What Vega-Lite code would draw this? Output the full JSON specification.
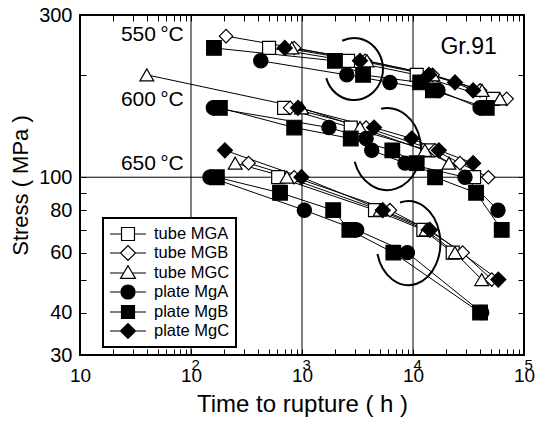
{
  "$schema": "https://vega.github.io/schema/vega-lite/v6.json",
  "width": 444,
  "height": 340,
  "autosize": {"type": "none"},
  "padding": {"left": 80, "top": 15, "right": 14, "bottom": 70},
  "config": {
    "font": "Liberation Sans",
    "view": {"stroke": "black", "strokeWidth": 2},
    "axis": {"domain": false, "grid": false, "tickColor": "black", "tickWidth": 1, "labelColor": "black", "titleColor": "black", "labelFont": "Liberation Sans", "titleFont": "Liberation Sans", "titleFontWeight": "normal", "labelFlush": false, "labelOverlap": false}
  },
  "datasets": {
    "pts": [
      {"s":"tube MGA","T":550,"t":505,"p":240},{"s":"tube MGA","T":550,"t":2600,"p":220},{"s":"tube MGA","T":550,"t":10800,"p":200},{"s":"tube MGA","T":550,"t":52600,"p":170},
      {"s":"tube MGB","T":550,"t":207,"p":260},{"s":"tube MGB","T":550,"t":850,"p":240},{"s":"tube MGB","T":550,"t":3700,"p":220},{"s":"tube MGB","T":550,"t":15000,"p":200},{"s":"tube MGB","T":550,"t":40200,"p":180},{"s":"tube MGB","T":550,"t":69800,"p":170},
      {"s":"tube MGC","T":550,"t":810,"p":240},{"s":"tube MGC","T":550,"t":3850,"p":220},{"s":"tube MGC","T":550,"t":15100,"p":200},{"s":"tube MGC","T":550,"t":41900,"p":180},{"s":"tube MGC","T":550,"t":60800,"p":170},
      {"s":"tube MGA","T":600,"t":690,"p":160},{"s":"tube MGA","T":600,"t":2750,"p":140},{"s":"tube MGA","T":600,"t":13700,"p":120},{"s":"tube MGA","T":600,"t":35500,"p":100},
      {"s":"tube MGB","T":600,"t":780,"p":160},{"s":"tube MGB","T":600,"t":3780,"p":140},{"s":"tube MGB","T":600,"t":15800,"p":120},{"s":"tube MGB","T":600,"t":26500,"p":110},{"s":"tube MGB","T":600,"t":47700,"p":100},
      {"s":"tube MGC","T":600,"t":40,"p":200},{"s":"tube MGC","T":600,"t":990,"p":160},{"s":"tube MGC","T":600,"t":3330,"p":140},{"s":"tube MGC","T":600,"t":12800,"p":120},{"s":"tube MGC","T":600,"t":21100,"p":110},
      {"s":"tube MGA","T":650,"t":610,"p":100},{"s":"tube MGA","T":650,"t":4550,"p":80},{"s":"tube MGA","T":650,"t":12400,"p":70},{"s":"tube MGA","T":650,"t":22800,"p":60},
      {"s":"tube MGB","T":650,"t":330,"p":110},{"s":"tube MGB","T":650,"t":850,"p":100},{"s":"tube MGB","T":650,"t":6200,"p":80},{"s":"tube MGB","T":650,"t":13600,"p":70},{"s":"tube MGB","T":650,"t":28000,"p":60},{"s":"tube MGB","T":650,"t":51200,"p":50},
      {"s":"tube MGC","T":650,"t":250,"p":110},{"s":"tube MGC","T":650,"t":730,"p":100},{"s":"tube MGC","T":650,"t":5050,"p":80},{"s":"tube MGC","T":650,"t":13100,"p":70},{"s":"tube MGC","T":650,"t":23900,"p":60},{"s":"tube MGC","T":650,"t":41600,"p":50},
      {"s":"plate MgA","T":550,"t":425,"p":220},{"s":"plate MgA","T":550,"t":2530,"p":200},{"s":"plate MgA","T":550,"t":6200,"p":190},{"s":"plate MgA","T":550,"t":16800,"p":180},{"s":"plate MgA","T":550,"t":40200,"p":160},
      {"s":"plate MgB","T":550,"t":161,"p":240},{"s":"plate MgB","T":550,"t":1980,"p":220},{"s":"plate MgB","T":550,"t":3550,"p":200},{"s":"plate MgB","T":550,"t":11600,"p":190},{"s":"plate MgB","T":550,"t":15100,"p":180},{"s":"plate MgB","T":550,"t":46200,"p":160},
      {"s":"plate MgC","T":550,"t":700,"p":240},{"s":"plate MgC","T":550,"t":3330,"p":220},{"s":"plate MgC","T":550,"t":13900,"p":200},{"s":"plate MgC","T":550,"t":23900,"p":190},{"s":"plate MgC","T":550,"t":34800,"p":180},
      {"s":"plate MgA","T":600,"t":159,"p":160},{"s":"plate MgA","T":600,"t":1750,"p":140},{"s":"plate MgA","T":600,"t":3780,"p":130},{"s":"plate MgA","T":600,"t":4250,"p":120},{"s":"plate MgA","T":600,"t":8470,"p":110},{"s":"plate MgA","T":600,"t":29400,"p":100},{"s":"plate MgA","T":600,"t":58300,"p":80},
      {"s":"plate MgB","T":600,"t":182,"p":160},{"s":"plate MgB","T":600,"t":850,"p":140},{"s":"plate MgB","T":600,"t":2750,"p":130},{"s":"plate MgB","T":600,"t":6510,"p":120},{"s":"plate MgB","T":600,"t":10800,"p":110},{"s":"plate MgB","T":600,"t":15800,"p":100},{"s":"plate MgB","T":600,"t":37000,"p":90},{"s":"plate MgB","T":600,"t":63000,"p":70},
      {"s":"plate MgC","T":600,"t":920,"p":160},{"s":"plate MgC","T":600,"t":4460,"p":140},{"s":"plate MgC","T":600,"t":9730,"p":130},{"s":"plate MgC","T":600,"t":17100,"p":120},{"s":"plate MgC","T":600,"t":34800,"p":110},
      {"s":"plate MgA","T":650,"t":148,"p":100},{"s":"plate MgA","T":650,"t":1050,"p":80},{"s":"plate MgA","T":650,"t":3110,"p":70},{"s":"plate MgA","T":650,"t":8890,"p":60},{"s":"plate MgA","T":650,"t":41600,"p":40},
      {"s":"plate MgB","T":650,"t":171,"p":100},{"s":"plate MgB","T":650,"t":634,"p":90},{"s":"plate MgB","T":650,"t":1910,"p":80},{"s":"plate MgB","T":650,"t":2670,"p":70},{"s":"plate MgB","T":650,"t":6650,"p":60},{"s":"plate MgB","T":650,"t":40200,"p":40},
      {"s":"plate MgC","T":650,"t":202,"p":120},{"s":"plate MgC","T":650,"t":990,"p":100},{"s":"plate MgC","T":650,"t":5340,"p":80},{"s":"plate MgC","T":650,"t":14200,"p":70},{"s":"plate MgC","T":650,"t":58700,"p":50}
    ]
  },
  "layer": [
    {
      "data": {"values": [{"t": 100}, {"t": 1000}, {"t": 10000}]},
      "mark": {"type": "rule", "color": "black", "strokeWidth": 1},
      "encoding": {
        "x": {"field": "t", "type": "quantitative", "scale": {"type": "log", "domain": [10, 100000], "nice": false},
          "axis": {"orient": "top", "values": [10,20,30,40,50,60,70,80,90,100,200,300,400,500,600,700,800,900,1000,2000,3000,4000,5000,6000,7000,8000,9000,10000,20000,30000,40000,50000,60000,70000,80000,90000,100000], "labels": false, "ticks": true, "tickSize": -6, "title": null}}
      }
    },
    {
      "data": {"values": [{"p": 100}]},
      "mark": {"type": "rule", "color": "black", "strokeWidth": 1},
      "encoding": {
        "y": {"field": "p", "type": "quantitative", "scale": {"type": "log", "domain": [30, 300], "nice": false},
          "axis": {"orient": "right", "values": [30,40,50,60,70,80,90,100,200,300], "labels": false, "ticks": true, "tickSize": -6, "title": null}}
      }
    },
    {
      "data": {"name": "pts"},
      "mark": {"type": "line", "color": "black", "strokeWidth": 1},
      "encoding": {
        "x": {"field": "t", "type": "quantitative", "scale": {"type": "log", "domain": [10, 100000], "nice": false},
          "axis": {"orient": "bottom", "values": [10,20,30,40,50,60,70,80,90,100,200,300,400,500,600,700,800,900,1000,2000,3000,4000,5000,6000,7000,8000,9000,10000,20000,30000,40000,50000,60000,70000,80000,90000,100000], "labels": false, "ticks": true, "tickSize": -6, "title": null}},
        "y": {"field": "p", "type": "quantitative", "scale": {"type": "log", "domain": [30, 300], "nice": false},
          "axis": {"orient": "left", "values": [30,40,50,60,70,80,90,100,200,300], "labels": false, "ticks": true, "tickSize": -6, "title": null}},
        "detail": [{"field": "s"}, {"field": "T"}]
      }
    },
    {
      "data": {"values": [{"t": 2940, "p": 208}]},
      "mark": {"type": "point", "shape": "M -0.380 -0.914 A 0.935 1 0 1 1 -0.894 0.292", "size": 3844, "filled": false, "stroke": "black", "strokeWidth": 2, "opacity": 1},
      "encoding": {
        "x": {"field": "t", "type": "quantitative", "scale": {"type": "log", "domain": [10, 100000], "nice": false}, "axis": null},
        "y": {"field": "p", "type": "quantitative", "scale": {"type": "log", "domain": [30, 300], "nice": false}, "axis": null}
      }
    },
    {
      "data": {"values": [{"t": 5830, "p": 121}]},
      "mark": {"type": "point", "shape": "M -0.144 -0.985 A 0.829 1 0 1 1 -0.788 0.309", "size": 6724, "filled": false, "stroke": "black", "strokeWidth": 2, "opacity": 1},
      "encoding": {
        "x": {"field": "t", "type": "quantitative", "scale": {"type": "log", "domain": [10, 100000], "nice": false}, "axis": null},
        "y": {"field": "p", "type": "quantitative", "scale": {"type": "log", "domain": [30, 300], "nice": false}, "axis": null}
      }
    },
    {
      "data": {"values": [{"t": 9080, "p": 64}]},
      "mark": {"type": "point", "shape": "M -0.197 -0.966 A 0.762 1 0 1 1 -0.736 0.259", "size": 7056, "filled": false, "stroke": "black", "strokeWidth": 2, "opacity": 1},
      "encoding": {
        "x": {"field": "t", "type": "quantitative", "scale": {"type": "log", "domain": [10, 100000], "nice": false}, "axis": null},
        "y": {"field": "p", "type": "quantitative", "scale": {"type": "log", "domain": [30, 300], "nice": false}, "axis": null}
      }
    },
    {
      "data": {"name": "pts"},
      "mark": {"type": "point", "filled": true, "stroke": "black", "strokeWidth": 1.2, "opacity": 1},
      "encoding": {
        "x": {"field": "t", "type": "quantitative", "scale": {"type": "log", "domain": [10, 100000], "nice": false},
          "axis": {"orient": "bottom", "values": [10, 100, 1000, 10000, 100000], "ticks": false, "labelExpr": "'10'", "labelFontSize": 19, "labelPadding": 11, "labelBaseline": "top",
            "encode": {"labels": {"update": {"dx": {"signal": "datum.value > 10 ? -7 : 0"}}}},
            "title": "Time to rupture  ( h )", "titleFontSize": 24, "titlePadding": 7}},
        "y": {"field": "p", "type": "quantitative", "scale": {"type": "log", "domain": [30, 300], "nice": false},
          "axis": {"orient": "left", "values": [30, 40, 60, 80, 100, 300], "ticks": false, "format": "d", "labelFontSize": 20, "labelPadding": 8,
            "title": "Stress  ( MPa )", "titleFontSize": 22, "titlePadding": 6}},
        "shape": {"field": "s", "type": "nominal", "scale": {"domain": ["tube MGA", "tube MGB", "tube MGC", "plate MgA", "plate MgB", "plate MgC"], "range": ["square", "diamond", "triangle-up", "circle", "square", "diamond"]}, "legend": null},
        "fill": {"field": "s", "type": "nominal", "scale": {"domain": ["tube MGA", "tube MGB", "tube MGC", "plate MgA", "plate MgB", "plate MgC"], "range": ["white", "white", "white", "black", "black", "black"]}, "legend": null},
        "size": {"field": "s", "type": "nominal", "scale": {"domain": ["tube MGA", "tube MGB", "tube MGC", "plate MgA", "plate MgB", "plate MgC"], "range": [169, 225, 196, 225, 169, 225]}, "legend": null}
      }
    },
    {
      "data": {"values": [{"t": 86, "p": 262, "label": "550\u2009°C"}, {"t": 86, "p": 169, "label": "600\u2009°C"}, {"t": 86, "p": 109.5, "label": "650\u2009°C"}]},
      "mark": {"type": "text", "align": "right", "baseline": "middle", "fontSize": 21, "color": "black"},
      "encoding": {
        "x": {"field": "t", "type": "quantitative", "scale": {"type": "log", "domain": [10, 100000], "nice": false}, "axis": null},
        "y": {"field": "p", "type": "quantitative", "scale": {"type": "log", "domain": [30, 300], "nice": false}, "axis": null},
        "text": {"field": "label"}
      }
    },
    {
      "data": {"values": [{"t": 56800, "p": 242, "label": "Gr.91"}]},
      "mark": {"type": "text", "align": "right", "baseline": "middle", "fontSize": 23, "color": "black"},
      "encoding": {
        "x": {"field": "t", "type": "quantitative", "scale": {"type": "log", "domain": [10, 100000], "nice": false}, "axis": null},
        "y": {"field": "p", "type": "quantitative", "scale": {"type": "log", "domain": [30, 300], "nice": false}, "axis": null},
        "text": {"field": "label"}
      }
    },
    {
      "data": {"name": "pts"},
      "mark": {"type": "point", "filled": true, "opacity": 0, "stroke": "black"},
      "encoding": {
        "x": {"field": "t", "type": "quantitative", "scale": {"type": "log", "domain": [10, 100000], "nice": false},
          "axis": {"orient": "bottom", "values": [100, 1000, 10000, 100000], "ticks": false, "labelExpr": "datum.value == 100 ? '2' : datum.value == 1000 ? '3' : datum.value == 10000 ? '4' : '5'", "labelFontSize": 15, "labelPadding": 2, "labelBaseline": "top", "labelAlign": "left",
            "encode": {"labels": {"update": {"dx": {"value": 7}}}}, "title": null}},
        "y": {"field": "p", "type": "quantitative", "scale": {"type": "log", "domain": [30, 300], "nice": false}, "axis": null},
        "shape": {"field": "s", "type": "nominal",
          "scale": {"domain": ["tube MGA", "tube MGB", "tube MGC", "plate MgA", "plate MgB", "plate MgC"],
            "range": ["M-2,0H-0.72M-0.72,-0.72H0.72V0.72H-0.72ZM0.72,0H2", "M-2,0H-0.83M-0.83,0L0,-0.83L0.83,0L0,0.83ZM0.83,0H2", "M-2,0H-0.47M0,-0.8L0.83,0.6H-0.83ZM0.47,0H2", "M-2,0H-0.78M-0.78,0A0.78,0.78,0,1,1,0.78,0A0.78,0.78,0,1,1,-0.78,0ZM0.78,0H2", "M-2,0H-0.72M-0.72,-0.72H0.72V0.72H-0.72ZM0.72,0H2", "M-2,0H-0.83M-0.83,0L0,-0.83L0.83,0L0,0.83ZM0.83,0H2"]},
          "legend": {"title": null, "orient": "none", "legendX": 23, "legendY": 203, "labelFontSize": 16.5, "labelColor": "black", "labelExpr": "datum.label + '  '", "symbolSize": 324, "symbolStrokeColor": "black", "symbolStrokeWidth": 1.2, "symbolOpacity": 1, "strokeColor": "black", "fillColor": "white", "padding": 6, "rowPadding": 0, "labelOffset": 25,
            "encode": {"legend": {"update": {"strokeWidth": {"value": 2}}}, "symbols": {"update": {"x": {"value": 19}}}}}},
        "fill": {"field": "s", "type": "nominal",
          "scale": {"domain": ["tube MGA", "tube MGB", "tube MGC", "plate MgA", "plate MgB", "plate MgC"], "range": ["white", "white", "white", "black", "black", "black"]},
          "legend": {"title": null, "orient": "none", "legendX": 23, "legendY": 203, "labelFontSize": 16.5, "labelColor": "black", "labelExpr": "datum.label + '  '", "symbolSize": 324, "symbolStrokeColor": "black", "symbolStrokeWidth": 1.2, "symbolOpacity": 1, "strokeColor": "black", "fillColor": "white", "padding": 6, "rowPadding": 0, "labelOffset": 25,
            "encode": {"legend": {"update": {"strokeWidth": {"value": 2}}}, "symbols": {"update": {"x": {"value": 19}}}}}}
      }
    }
  ],
  "resolve": {
    "axis": {"x": "independent", "y": "independent"},
    "scale": {"shape": "independent", "fill": "independent", "size": "independent"},
    "legend": {"shape": "independent", "fill": "independent", "size": "independent"}
  }
}
